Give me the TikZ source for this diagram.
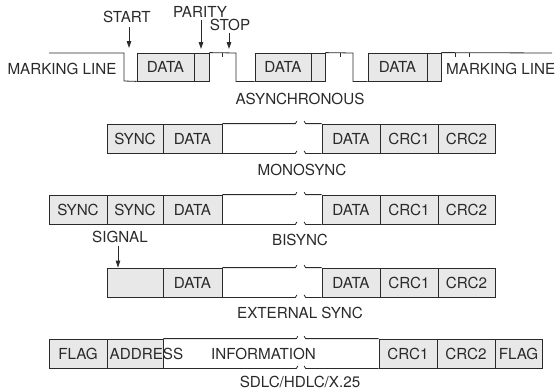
\documentclass[tikz,border=0pt]{standalone}
\usepackage{fontspec}
\setmainfont{TeX Gyre Heros}
\usetikzlibrary{arrows.meta}
\definecolor{ink}{HTML}{2A2A2A}
\definecolor{shade}{HTML}{E8E8E8}
\begin{document}
\begin{tikzpicture}[x=1pt,y=-1pt,
  every node/.style={text=ink,font=\fontsize{15.2}{18}\selectfont,inner sep=0pt},
  box/.style={draw=ink,line width=0.8pt,fill=shade,minimum height=29pt},
  abox/.style={draw=ink,line width=0.8pt,fill=shade,minimum height=28pt},
  ln/.style={draw=ink,line width=0.8pt},
  arr/.style={draw=ink,line width=0.8pt,-{Triangle[length=7pt,width=4.5pt]}}]
\useasboundingbox (0,0) rectangle (559,391);

% ---------- ASYNCHRONOUS ----------
\node[abox,minimum width=57pt] (a1) at (165.5,67) {DATA};
\node[abox,minimum width=15pt] (p1) at (201.5,67) {};
\node[abox,minimum width=56pt] (a2) at (283,67) {DATA};
\node[abox,minimum width=14pt] (p2) at (318,67) {};
\node[abox,minimum width=59pt] (a3) at (397.5,67) {DATA};
\node[abox,minimum width=14pt] (p3) at (434,67) {};
\coordinate (mlL) at (49,53);
\coordinate (mlR) at (552,53);
\draw[ln] (mlL) -| (124,81) -- (a1.south west);
\draw[ln] (p1.north east) -- (236,53) |- (a2.south west);
\draw[ln] (p2.north east) -- (353,53) |- (a3.south west);
\draw[ln] (p3.north east) -- (mlR);
\foreach \t in {222,340,455,469} \draw[ln] (\t,53) -- ++(0,4);
\node (mll) at (62,69) {MARKING LINE};
\node[anchor=west] (mlr) at (446,69) {MARKING LINE};
\node (start) at (127,17) {START};
\node (parity) at (200,12) {PARITY};
\node (stop) at (230,25) {STOP};
\draw[arr] (129,27) -- (129,48);
\draw[arr] (201,20) -- (201,49);
\draw[arr] (229,33) -- (229,49);
\node (async) at (300,99) {ASYNCHRONOUS};

% ---------- MONOSYNC ----------
\node[box,minimum width=56pt] (m1) at (135,138.5) {SYNC};
\node[box,minimum width=59pt] (m2) at (192.5,138.5) {DATA};
\node[box,minimum width=58pt] (m3) at (351,138.5) {DATA};
\node[box,minimum width=58pt] (m4) at (409,138.5) {CRC1};
\node[box,minimum width=57pt] (m5) at (466.5,138.5) {CRC2};
\foreach \c in {north,south}{
  \draw[ln] (m2.\c\space east) -- ++(73,0) -- ++(1.5,-2.5);
  \draw[ln] (m3.\c\space west) -- ++(-16,0) -- ++(-1.5,-2.5);
}
\node (mono) at (302,170) {MONOSYNC};

% ---------- BISYNC ----------
\node[box,minimum width=58pt] (b1) at (78,209.5) {SYNC};
\node[box,minimum width=56pt] (b2) at (135,209.5) {SYNC};
\node[box,minimum width=59pt] (b3) at (192.5,209.5) {DATA};
\node[box,minimum width=58pt] (b4) at (351,209.5) {DATA};
\node[box,minimum width=58pt] (b5) at (409,209.5) {CRC1};
\node[box,minimum width=57pt] (b6) at (466.5,209.5) {CRC2};
\foreach \c in {north,south}{
  \draw[ln] (b3.\c\space east) -- ++(73,0) -- ++(1.5,-2.5);
  \draw[ln] (b4.\c\space west) -- ++(-16,0) -- ++(-1.5,-2.5);
}
\node (bis) at (300,240) {BISYNC};
\node (signal) at (120,237) {SIGNAL};

% ---------- EXTERNAL SYNC ----------
\node[box,minimum width=56pt] (e1) at (135,282.5) {};
\node[box,minimum width=59pt] (e2) at (192.5,282.5) {DATA};
\node[box,minimum width=58pt] (e3) at (351,282.5) {DATA};
\node[box,minimum width=58pt] (e4) at (409,282.5) {CRC1};
\node[box,minimum width=57pt] (e5) at (466.5,282.5) {CRC2};
\foreach \c in {north,south}{
  \draw[ln] (e2.\c\space east) -- ++(73,0) -- ++(1.5,-2.5);
  \draw[ln] (e3.\c\space west) -- ++(-16,0) -- ++(-1.5,-2.5);
}
\draw[arr] (118,246) -- (e1.north west -| 118,0);
\node (ext) at (300,313) {EXTERNAL SYNC};

% ---------- SDLC ----------
\node[box,minimum width=58pt] (s1) at (78,353.5) {FLAG};
\node[box,minimum width=56pt] (s2) at (135,353.5) {};
\node[box,minimum width=58pt] (s4) at (408,353.5) {CRC1};
\node[box,minimum width=58pt] (s5) at (466,353.5) {CRC2};
\node[box,minimum width=47pt] (s6) at (518.5,353.5) {FLAG};
\node[anchor=west] (addr) at (109.5,353.5) {ADDRESS};
\node (info) at (263.5,353.5) {INFORMATION};
\foreach \c in {north,south}{
  \draw[ln] (s2.\c\space east) -- ++(133,0) -- ++(1.5,-2.5);
  \draw[ln] (s4.\c\space west) -- ++(-73,0) -- ++(-1.5,-2.5);
}
\node (sdlc) at (300,381.5) {SDLC/HDLC/X.25};
\end{tikzpicture}
\end{document}
